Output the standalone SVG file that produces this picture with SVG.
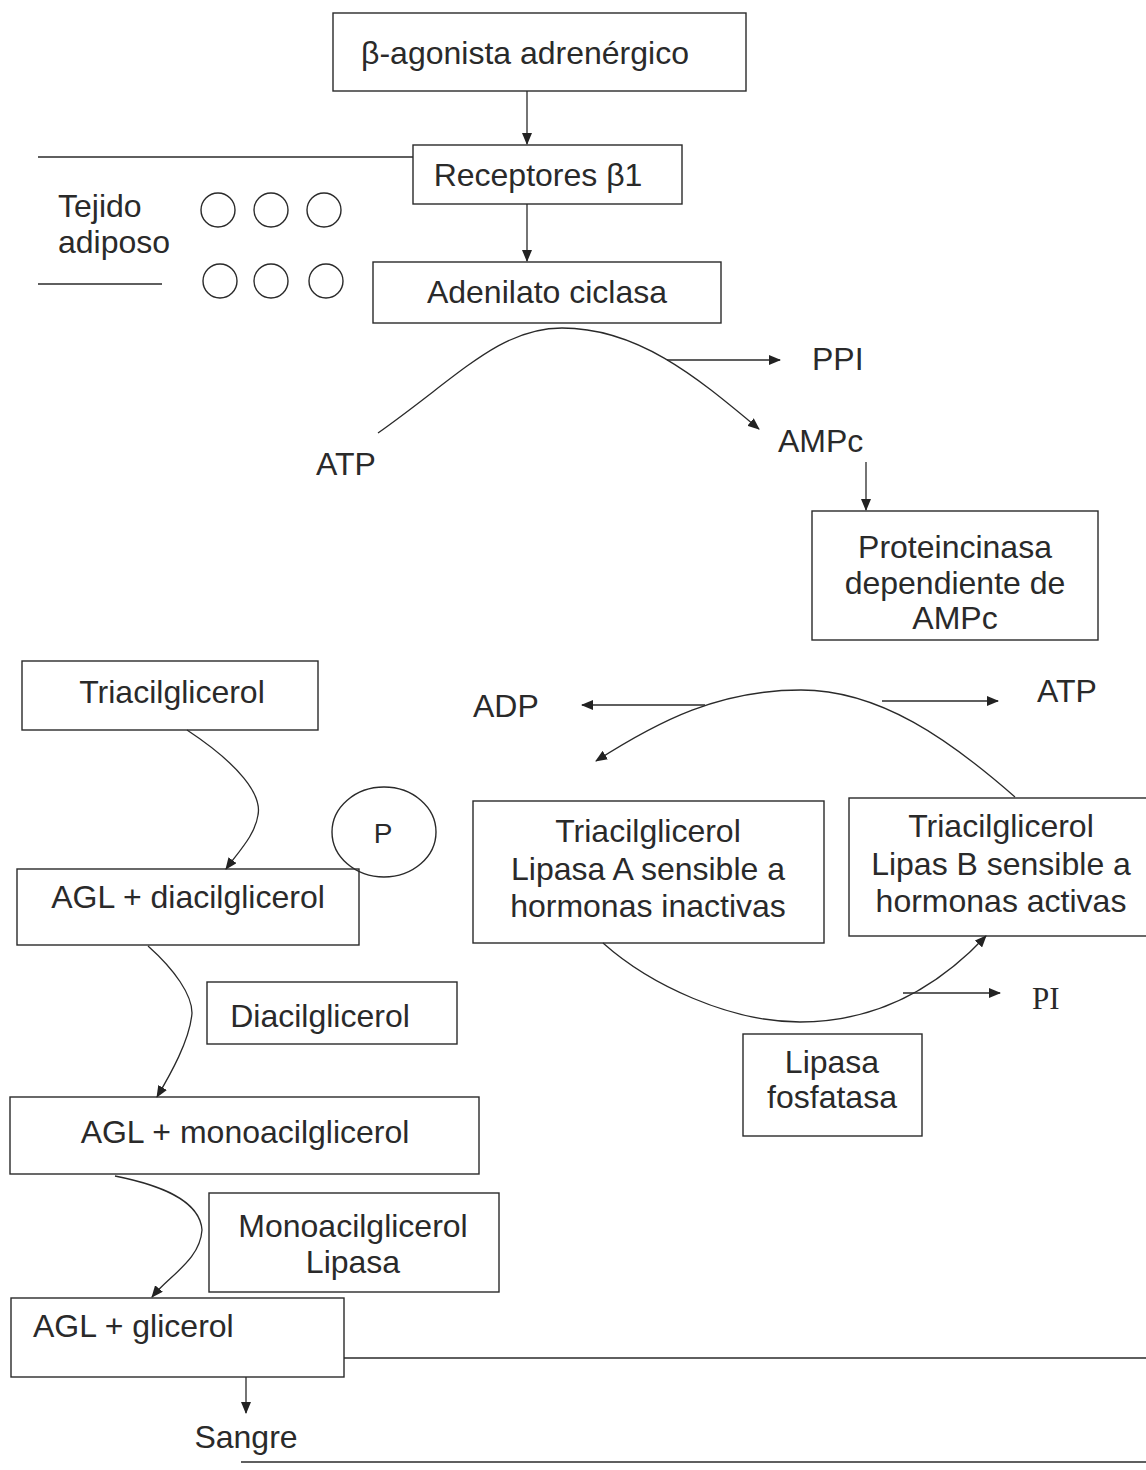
<svg xmlns="http://www.w3.org/2000/svg" width="1146" height="1470" viewBox="0 0 1146 1470">
<style>
.b{fill:none;stroke:#2a2a2a;stroke-width:1.4}
.c{fill:none;stroke:#2a2a2a;stroke-width:1.3}
text{font-family:"Liberation Sans",Arial,sans-serif;font-size:32px;fill:#2a2a2a}
.m{text-anchor:middle}
.s{font-family:"Liberation Serif","Times New Roman",serif;font-size:31px}
</style>
<defs>
<marker id="ar" markerWidth="12" markerHeight="10" refX="11" refY="5" orient="auto" markerUnits="userSpaceOnUse">
<path d="M0,0 L12,5 L0,10 z" fill="#222"/>
</marker>
</defs>
<rect width="1146" height="1470" fill="#fff"/>

<g id="n-agonista"><rect class="b" x="333" y="13" width="413" height="78"/><text class="m" x="525" y="64">β-agonista adrenérgico</text></g>
<g id="n-receptores"><rect class="b" x="413" y="145" width="269" height="59"/><text class="m" x="538" y="186">Receptores β1</text></g>
<g id="n-tejido"><text x="58" y="217">Tejido</text><text x="58" y="253">adiposo</text>
<circle class="b" cx="218" cy="210" r="17"/><circle class="b" cx="271" cy="210" r="17"/><circle class="b" cx="324" cy="210" r="17"/>
<circle class="b" cx="220" cy="281" r="17"/><circle class="b" cx="271" cy="281" r="17"/><circle class="b" cx="326" cy="281" r="17"/>
<line class="b" x1="38" y1="157" x2="413" y2="157"/><line class="b" x1="38" y1="284" x2="162" y2="284"/></g>
<g id="n-adenilato"><rect class="b" x="373" y="262" width="348" height="61"/><text class="m" x="547" y="303">Adenilato ciclasa</text></g>
<g id="n-ppi"><text x="812" y="370">PPI</text></g>
<g id="n-atp1"><text x="316" y="475">ATP</text></g>
<g id="n-ampc"><text x="778" y="452">AMPc</text></g>
<g id="n-proteincinasa"><rect class="b" x="812" y="511" width="286" height="129"/><text class="m" x="955" y="558">Proteincinasa</text><text class="m" x="955" y="594">dependiente de</text><text class="m" x="955" y="629">AMPc</text></g>
<g id="n-adp"><text x="473" y="717">ADP</text></g>
<g id="n-atp2"><text x="1037" y="702">ATP</text></g>
<g id="n-lipasaA"><rect class="b" x="473" y="801" width="351" height="142"/><text class="m" x="648" y="842">Triacilglicerol</text><text class="m" x="648" y="880">Lipasa A sensible a</text><text class="m" x="648" y="917">hormonas inactivas</text></g>
<g id="n-lipasaB"><rect class="b" x="849" y="798" width="310" height="138"/><text class="m" x="1001" y="837">Triacilglicerol</text><text class="m" x="1001" y="875">Lipas B sensible a</text><text class="m" x="1001" y="912">hormonas activas</text></g>
<g id="n-pi"><text class="s" x="1032" y="1009">PI</text></g>
<g id="n-fosfatasa"><rect class="b" x="743" y="1034" width="179" height="102"/><text class="m" x="832" y="1073">Lipasa</text><text class="m" x="832" y="1108">fosfatasa</text></g>
<g id="n-triacil"><rect class="b" x="22" y="661" width="296" height="69"/><text class="m" x="172" y="703">Triacilglicerol</text></g>
<g id="n-p"><ellipse class="b" cx="384" cy="832" rx="52" ry="45"/><text class="m" x="383" y="843" style="font-size:28px">P</text></g>
<g id="n-agldiacil"><rect class="b" x="17" y="869" width="342" height="76"/><text class="m" x="188" y="908">AGL + diacilglicerol</text></g>
<g id="n-diacil"><rect class="b" x="207" y="982" width="250" height="62"/><text class="m" x="320" y="1027">Diacilglicerol</text></g>
<g id="n-aglmono"><rect class="b" x="10" y="1097" width="469" height="77"/><text class="m" x="245" y="1143">AGL + monoacilglicerol</text></g>
<g id="n-monolipasa"><rect class="b" x="209" y="1193" width="290" height="99"/><text class="m" x="353" y="1237">Monoacilglicerol</text><text class="m" x="353" y="1273">Lipasa</text></g>
<g id="n-aglglicerol"><rect class="b" x="11" y="1298" width="333" height="79"/><text x="33" y="1337">AGL + glicerol</text></g>
<g id="n-sangre"><text class="m" x="246" y="1448">Sangre</text>
<line class="b" x1="344" y1="1358" x2="1146" y2="1358"/><line class="b" x1="241" y1="1462" x2="1146" y2="1462"/></g>

<g id="connectors">
<line class="c" x1="527" y1="91" x2="527" y2="144" marker-end="url(#ar)"/>
<line class="c" x1="527" y1="204" x2="527" y2="261" marker-end="url(#ar)"/>
<path class="c" d="M378 433 C460 375,500 328,562 328 C640 328,700 380,759 429" marker-end="url(#ar)"/>
<line class="c" x1="667" y1="360" x2="780" y2="360" marker-end="url(#ar)"/>
<line class="c" x1="866" y1="462" x2="866" y2="510" marker-end="url(#ar)"/>
<path class="c" d="M1015 797 C950 740,880 690,801 690 C720 690,660 720,596 761" marker-end="url(#ar)"/>
<line class="c" x1="705" y1="705" x2="582" y2="705" marker-end="url(#ar)"/>
<line class="c" x1="882" y1="701" x2="998" y2="701" marker-end="url(#ar)"/>
<path class="c" d="M603 943 C650 985,730 1022,800 1022 C880 1022,940 985,986 936" marker-end="url(#ar)"/>
<line class="c" x1="903" y1="993" x2="1000" y2="993" marker-end="url(#ar)"/>
<path class="c" d="M187 730 C240 765,262 795,258 815 C255 835,240 850,226 869" marker-end="url(#ar)"/>
<path class="c" d="M148 946 C175 970,192 995,192 1013 C190 1040,170 1075,157 1097" marker-end="url(#ar)"/>
<path class="c" d="M115 1176 C160 1185,200 1200,202 1230 C200 1260,170 1275,152 1297" marker-end="url(#ar)"/>
<line class="c" x1="246" y1="1377" x2="246" y2="1413" marker-end="url(#ar)"/>
</g>
</svg>
